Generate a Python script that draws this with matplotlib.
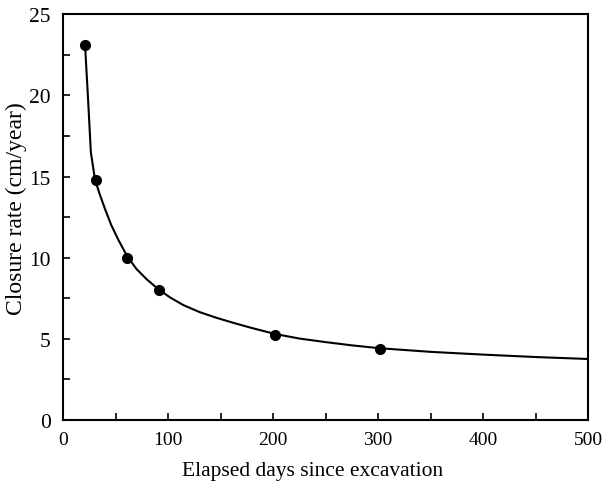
import matplotlib
matplotlib.use("Agg")
import matplotlib.pyplot as plt
from matplotlib.ticker import MultipleLocator

plt.rcParams['font.family'] = ['Liberation Serif', 'DejaVu Serif']

# measured points
days = [21, 31, 61, 91, 202, 302]
rate = [23.1, 14.8, 10.0, 8.0, 5.25, 4.4]

# fitted curve
curve_x = [21, 24, 26.5, 30.5, 35, 40, 46, 52.7, 61, 70, 80, 91, 102, 114.6, 130, 146, 162, 178, 202, 225, 250, 275, 302, 350, 400, 450, 500]
curve_y = [23.1, 19.6, 16.5, 14.8, 13.9, 13.0, 12.0, 11.1, 10.1, 9.3, 8.65, 8.05, 7.55, 7.08, 6.65, 6.3, 5.99, 5.7, 5.3, 5.02, 4.8, 4.6, 4.42, 4.2, 4.03, 3.88, 3.76]

fig = plt.figure(figsize=(6.07, 4.89), dpi=100)
ax = fig.add_axes([0.1038, 0.139, 0.865, 0.83])
ax.plot(curve_x, curve_y, color='black', lw=1.5)
ax.plot(days, rate, 'o', color='black', ms=7)

ax.set_xlim(0, 500)
ax.set_ylim(0, 25)
ax.xaxis.set_major_locator(MultipleLocator(100))
ax.xaxis.set_minor_locator(MultipleLocator(50))
ax.yaxis.set_major_locator(MultipleLocator(5))
ax.yaxis.set_minor_locator(MultipleLocator(2.5))
ax.tick_params(which='both', direction='in', length=5, width=1.2, labelsize=14, pad=8)
ax.tick_params(axis='y', which='major', labelsize=15.5, pad=9)
ax.tick_params(axis='x', which='both', top=False)
for s in ax.spines.values():
    s.set_linewidth(1.5)
ax.set_xlabel('Elapsed days since excavation', fontsize=15.5, labelpad=10)
ax.set_ylabel('Closure rate (cm/year)', fontsize=17, labelpad=0)
ax.xaxis.set_label_coords(0.476, -0.1)
ax.yaxis.set_label_coords(-0.068, 0.523)
fig.savefig('out.png', dpi=100)
